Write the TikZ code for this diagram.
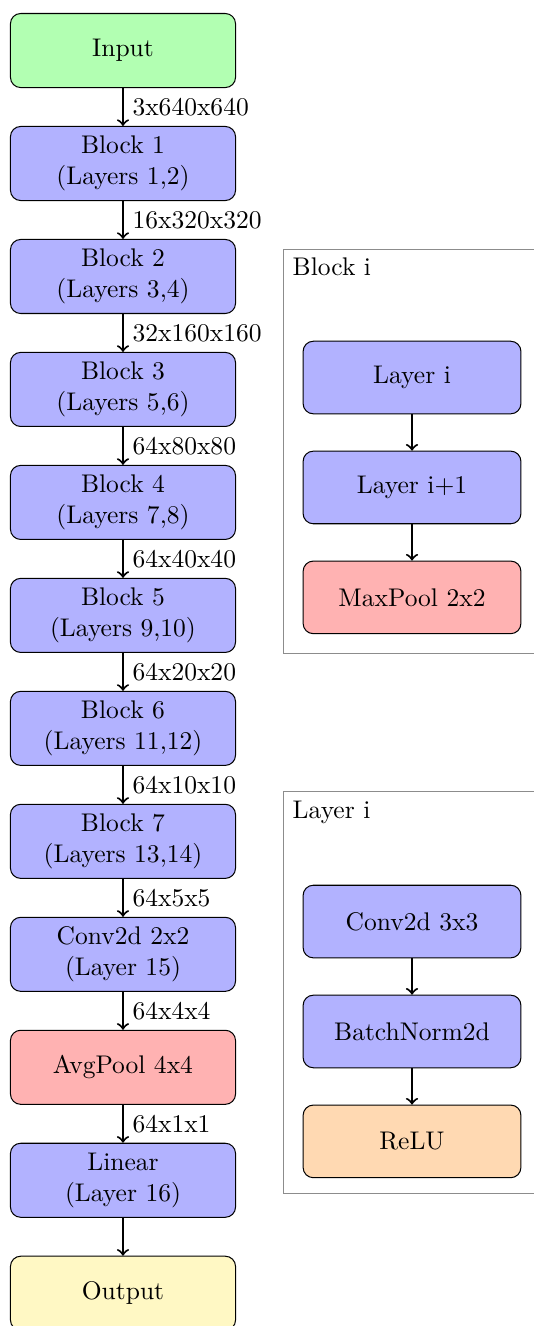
\documentclass[tikz,border=0pt]{standalone}
\usetikzlibrary{positioning,calc}
\definecolor{outyellow}{HTML}{FFF8C4}
\tikzset{
    stage/.style={draw, rounded corners, align=center, minimum width=3.1cm, minimum height=1.02cm},
    substage/.style={draw, rounded corners, align=center, minimum width=3cm, minimum height=1cm},
    flow/.style={->, thick},
    framebox/.style={draw=black!45},
}

\begin{document}
\begin{tikzpicture}
\useasboundingbox (0,0) rectangle (7.355,-18.264);
% main network, top to bottom
\node[stage, fill=green!30] (in) at (1.694,-0.696) {Input};
\node[stage, fill=blue!30, below=0.522cm of in] (b1) {Block 1\\(Layers 1,2)};
\node[stage, fill=blue!30, below=0.522cm of b1] (b2) {Block 2\\(Layers 3,4)};
\node[stage, fill=blue!30, below=0.522cm of b2] (b3) {Block 3\\(Layers 5,6)};
\node[stage, fill=blue!30, below=0.522cm of b3] (b4) {Block 4\\(Layers 7,8)};
\node[stage, fill=blue!30, below=0.522cm of b4] (b5) {Block 5\\(Layers 9,10)};
\node[stage, fill=blue!30, below=0.522cm of b5] (b6) {Block 6\\(Layers 11,12)};
\node[stage, fill=blue!30, below=0.522cm of b6] (b7) {Block 7\\(Layers 13,14)};
\node[stage, fill=blue!30, below=0.522cm of b7] (conv) {Conv2d 2x2\\(Layer 15)};
\node[stage, fill=red!30, below=0.522cm of conv] (pool) {AvgPool 4x4};
\node[stage, fill=blue!30, below=0.522cm of pool] (lin) {Linear\\(Layer 16)};
\node[stage, fill=outyellow, below=0.522cm of lin] (out) {Output};

\draw[flow] (in) -- node[right] {3x640x640} (b1);
\draw[flow] (b1) -- node[right] {16x320x320} (b2);
\draw[flow] (b2) -- node[right] {32x160x160} (b3);
\draw[flow] (b3) -- node[right] {64x80x80} (b4);
\draw[flow] (b4) -- node[right] {64x40x40} (b5);
\draw[flow] (b5) -- node[right] {64x20x20} (b6);
\draw[flow] (b6) -- node[right] {64x10x10} (b7);
\draw[flow] (b7) -- node[right] {64x5x5} (conv);
\draw[flow] (conv) -- node[right] {64x4x4} (pool);
\draw[flow] (pool) -- node[right] {64x1x1} (lin);
\draw[flow] (lin) -- (out);

% inside a block
\node[substage, fill=blue!30] (bl1) at (5.675,-5.200) {Layer i};
\node[substage, fill=blue!30, below=0.5cm of bl1] (bl2) {Layer i+1};
\node[substage, fill=red!30, below=0.5cm of bl2] (bl3) {MaxPool 2x2};
\draw[flow] (bl1) -- (bl2);
\draw[flow] (bl2) -- (bl3);
\draw[framebox] ($(bl1.north west)+(-0.26,1.26)$) coordinate (bframe)
    rectangle ($(bl3.south east)+(0.26,-0.26)$);
\node[anchor=north west] (btitle) at (bframe) {Block i};

% inside a layer
\node[substage, fill=blue!30] (ly1) at (5.675,-12.693) {Conv2d 3x3};
\node[substage, fill=blue!30, below=0.5cm of ly1] (ly2) {BatchNorm2d};
\node[substage, fill=orange!30, below=0.5cm of ly2] (ly3) {ReLU};
\draw[flow] (ly1) -- (ly2);
\draw[flow] (ly2) -- (ly3);
\draw[framebox] ($(ly1.north west)+(-0.26,1.28)$) coordinate (lframe)
    rectangle ($(ly3.south east)+(0.26,-0.215)$);
\node[anchor=north west] (ltitle) at (lframe) {Layer i};
\end{tikzpicture}
\end{document}
